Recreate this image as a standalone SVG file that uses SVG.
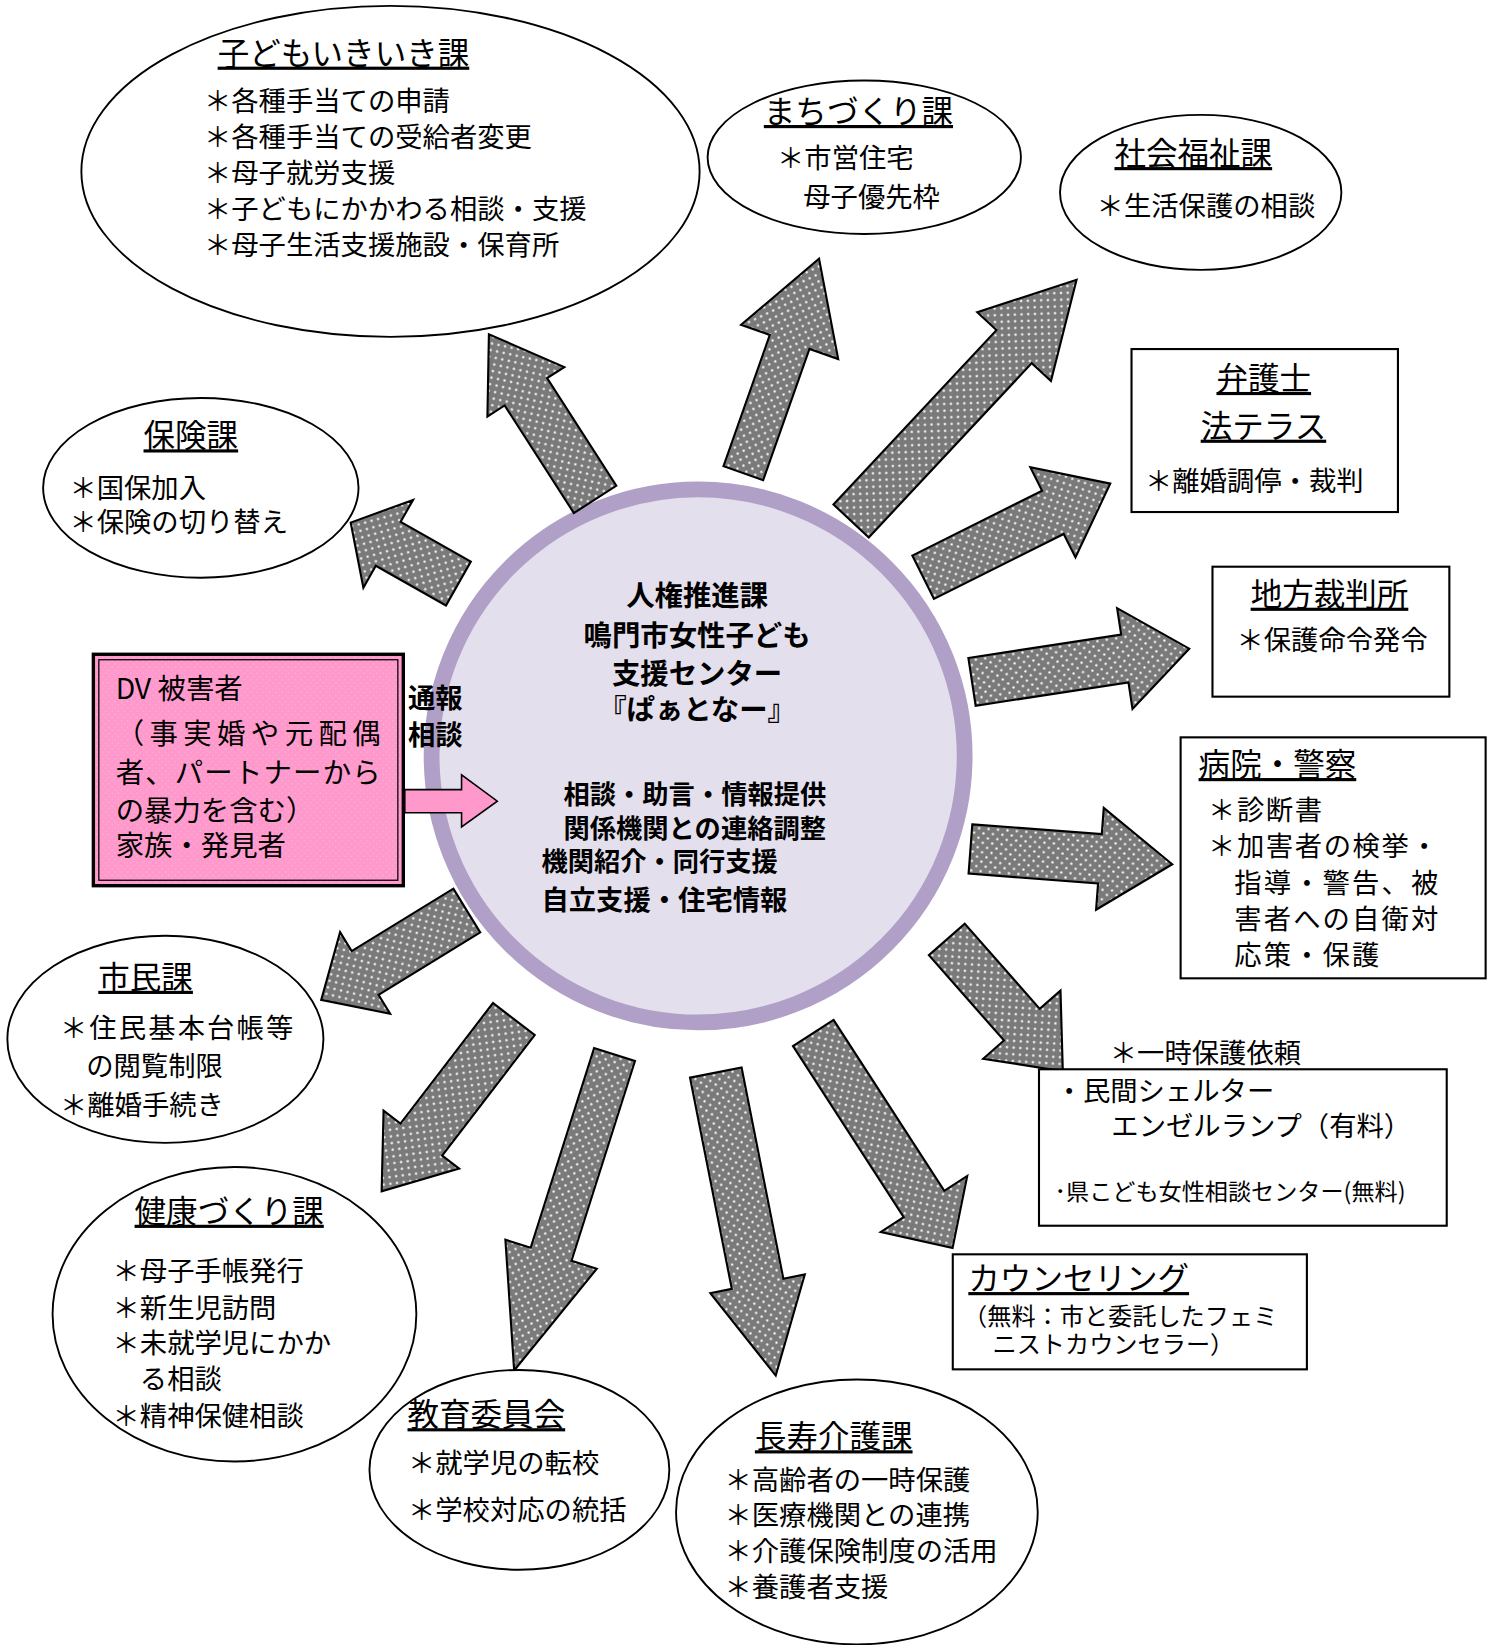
<svg xmlns="http://www.w3.org/2000/svg" width="1493" height="1645" viewBox="0 0 1493 1645">
<defs>
<pattern id="dots" patternUnits="userSpaceOnUse" width="9" height="9">
<rect width="9" height="9" fill="#7a7a7a"/>
<circle cx="2.25" cy="2.25" r="1.1" fill="#ffffff"/>
<circle cx="6.75" cy="6.75" r="1.1" fill="#ffffff"/>
</pattern>
<pattern id="pinkdots" patternUnits="userSpaceOnUse" width="6" height="6">
<rect width="6" height="6" fill="#ff99cc"/>
<circle cx="1.5" cy="1.5" r="0.6" fill="#ffb8dc"/>
<circle cx="4.5" cy="4.5" r="0.6" fill="#ffb8dc"/>
</pattern>
<style>
text{font-family:"Noto Sans CJK JP","Noto Sans CJK SC",sans-serif;fill:#000}
.t{font-size:30px;text-decoration:underline}
.i{font-size:26px}
.s{font-size:22px}
.m{font-size:23px}
.d{font-size:27px}
.c{font-size:27px;font-weight:bold}
.c2{font-size:25px;font-weight:bold}
.e{fill:#fff;stroke:#000;stroke-width:1.8}
.r{fill:#fff;stroke:#000;stroke-width:2}
.ga{fill:url(#dots);stroke:#000;stroke-width:2;stroke-linejoin:miter}
</style>
</defs>
<rect width="1493" height="1645" fill="#fff"/>
<g transform="scale(1.0514)">

<g id="center">
<circle cx="664" cy="719" r="253.5" fill="#e4dfec" stroke="#b09fc7" stroke-width="15"/>
<text class="c" x="663" y="576.5" text-anchor="middle">人権推進課</text>
<text class="c" x="663" y="614.5" text-anchor="middle">鳴門市女性子ども</text>
<text class="c" x="663" y="650.5" text-anchor="middle">支援センター</text>
<text class="c" x="663" y="684.8" text-anchor="middle">『ぱぁとなー』</text>
<text class="c2" x="536" y="764.6">相談・助言・情報提供</text>
<text class="c2" x="536" y="797.3">関係機関との連絡調整</text>
<text class="c2" x="515" y="828.4">機関紹介・同行支援</text>
<text class="c2" x="515" y="865.7" style="font-size:26px">自立支援・住宅情報</text>
</g>

<g id="connectors">
<g transform="translate(566,475) rotate(-122.75)"><polygon class="ga" points="0,-24 121.7,-24 121.7,-43.5 186.7,0 121.7,43.5 121.7,24 0,24"/></g>
<g transform="translate(707,450) rotate(-70.56)"><polygon class="ga" points="0,-20 132.3,-20 132.3,-49 216.3,0 132.3,49 132.3,20 0,20"/></g>
<g transform="translate(809.5,495.5) rotate(-46.93)"><polygon class="ga" points="0,-23 227,-23 227,-48 314,0 227,48 227,23 0,23"/></g>
<g transform="translate(878,549) rotate(-26.57)"><polygon class="ga" points="0,-23 138,-23 138,-48 199,0 138,48 138,23 0,23"/></g>
<g transform="translate(924.5,648.5) rotate(-8.67)"><polygon class="ga" points="0,-23 147,-23 147,-48.5 209,0 147,48.5 147,23 0,23"/></g>
<g transform="translate(923,807.5) rotate(4.32)"><polygon class="ga" points="0,-23.5 123.5,-23.5 123.5,-48.6 192.5,0 123.5,48.6 123.5,23.5 0,23.5"/></g>
<g transform="translate(900.5,893.5) rotate(48.63)"><polygon class="ga" points="0,-22.7 108,-22.7 108,-49 167,0 108,49 108,22.7 0,22.7"/></g>
<g transform="translate(773.5,982.5) rotate(57.06)"><polygon class="ga" points="0,-23 193.7,-23 193.7,-49 243.7,0 193.7,49 193.7,23 0,23"/></g>
<g transform="translate(680.8,1020.1) rotate(78.81)"><polygon class="ga" points="0,-25 204.8,-25 204.8,-45.8 293.8,0 204.8,45.8 204.8,25 0,25"/></g>
<g transform="translate(584.5,1003) rotate(107.63)"><polygon class="ga" points="0,-20.4 199.3,-20.4 199.3,-45.6 315.3,0 199.3,45.6 199.3,20.4 0,20.4"/></g>
<g transform="translate(488.7,969.2) rotate(127.5)"><polygon class="ga" points="0,-25 144.5,-25 144.5,-45.3 206.5,0 144.5,45.3 144.5,25 0,25"/></g>
<g transform="translate(444,866) rotate(148.46)"><polygon class="ga" points="0,-24.4 113.5,-24.4 113.5,-45.5 162.5,0 113.5,45.5 113.5,24.4 0,24.4"/></g>
<g transform="translate(436,555) rotate(-150.5)"><polygon class="ga" points="0,-24 76.7,-24 76.7,-48 117.7,0 76.7,48 76.7,24 0,24"/></g>
<polygon points="385,751 439,751 439,737 473,762 439,786.5 439,773 385,773" fill="#ff99cc" stroke="#000" stroke-width="1.5"/>
<text class="c2" x="388" y="673" style="font-size:26px">通報</text>
<text class="c2" x="388" y="709" style="font-size:26px">相談</text>
</g>

<g id="dv">
<rect x="88.8" y="622.3" width="294.8" height="220.1" fill="url(#pinkdots)" stroke="#000" stroke-width="3.2"/>
<rect x="94" y="627.5" width="284.4" height="209.7" fill="none" stroke="#000" stroke-width="1.2"/>
<text class="d" x="110" y="664.5">DV 被害者</text>
<text class="d" x="110" y="707.5" textLength="252" lengthAdjust="spacing">（事実婚や元配偶</text>
<text class="d" x="110" y="744.5" textLength="252" lengthAdjust="spacing">者、パートナーから</text>
<text class="d" x="110" y="780.5">の暴力を含む）</text>
<text class="d" x="110" y="814.5">家族・発見者</text>
</g>

<g id="kodomo">
<ellipse class="e" cx="371.4" cy="163" rx="294" ry="157.4"/>
<text class="t" x="207" y="61.5">子どもいきいき課</text>
<text class="i" x="194" y="105.6">＊各種手当ての申請</text>
<text class="i" x="194" y="139.4">＊各種手当ての受給者変更</text>
<text class="i" x="194" y="173.6">＊母子就労支援</text>
<text class="i" x="194" y="208.6">＊子どもにかかわる相談・支援</text>
<text class="i" x="194" y="242.8">＊母子生活支援施設・保育所</text>
</g>

<g id="machi">
<ellipse class="e" cx="822" cy="149.6" rx="149" ry="73"/>
<text class="t" x="726.5" y="117">まちづくり課</text>
<text class="i" x="739" y="160.1">＊市営住宅</text>
<text class="i" x="764" y="196.5">母子優先枠</text>
</g>

<g id="shakai">
<ellipse class="e" cx="1142" cy="183" rx="133.8" ry="73.7"/>
<text class="t" x="1060" y="157">社会福祉課</text>
<text class="i" x="1043" y="205.7">＊生活保護の相談</text>
</g>

<g id="bengoshi">
<rect class="r" x="1076.2" y="332" width="253.4" height="155"/>
<text class="t" x="1157" y="370.9">弁護士</text>
<text class="t" x="1142" y="416.3">法テラス</text>
<text class="i" x="1089" y="467">＊離婚調停・裁判</text>
</g>

<g id="chiho">
<rect class="r" x="1153.2" y="539" width="225.3" height="123.6"/>
<text class="t" x="1189.5" y="576.1">地方裁判所</text>
<text class="i" x="1176" y="617.8">＊保護命令発令</text>
</g>

<g id="byoin">
<rect class="r" x="1122.9" y="701.3" width="290.1" height="229.2"/>
<text class="t" x="1140" y="738.1">病院・警察</text>
<text class="i" x="1149" y="779.5" letter-spacing="1.5">＊診断書</text>
<text class="i" x="1149" y="813.8" letter-spacing="1.5">＊加害者の検挙・</text>
<text class="i" x="1174" y="849.3" letter-spacing="2">指導・警告、被</text>
<text class="i" x="1174" y="883.5" letter-spacing="2">害者への自衛対</text>
<text class="i" x="1174" y="917.4" letter-spacing="2">応策・保護</text>
</g>

<g id="shelter">
<text class="i" x="1055.5" y="1010.9">＊一時保護依頼</text>
<rect class="r" x="988.2" y="1017" width="387.8" height="148.8"/>
<text class="i" x="1004" y="1047.4">・民間シェルター</text>
<text class="i" x="1057" y="1080.7">エンゼルランプ（有料）</text>
<text class="s" x="1003" y="1141.1">･県こども女性相談センター(無料)</text>
</g>

<g id="counseling">
<rect class="r" x="906.2" y="1193" width="336.8" height="109.4"/>
<text class="t" x="921" y="1227">カウンセリング</text>
<text class="m" x="916" y="1260.3">（無料：市と委託したフェミ</text>
<text class="m" x="944" y="1287.3">ニストカウンセラー）</text>
</g>

<g id="choju">
<ellipse class="e" cx="815" cy="1438" rx="172" ry="126"/>
<text class="t" x="718" y="1377.5">長寿介護課</text>
<text class="i" x="689" y="1416.7">＊高齢者の一時保護</text>
<text class="i" x="689" y="1450.4">＊医療機関との連携</text>
<text class="i" x="689" y="1484.9">＊介護保険制度の活用</text>
<text class="i" x="689" y="1518.6">＊養護者支援</text>
</g>

<g id="kyoiku">
<ellipse class="e" cx="494" cy="1398" rx="142.6" ry="95"/>
<text class="t" x="387.6" y="1356.5">教育委員会</text>
<text class="i" x="388" y="1400.9">＊就学児の転校</text>
<text class="i" x="388" y="1445.3">＊学校対応の統括</text>
</g>

<g id="kenko">
<ellipse class="e" cx="223" cy="1250" rx="173" ry="140"/>
<text class="t" x="128" y="1163">健康づくり課</text>
<text class="i" x="107" y="1218.1">＊母子手帳発行</text>
<text class="i" x="107" y="1253.1">＊新生児訪問</text>
<text class="i" x="107" y="1287.1">＊未就学児にかか</text>
<text class="i" x="133" y="1321.1">る相談</text>
<text class="i" x="107" y="1356.1">＊精神保健相談</text>
</g>

<g id="shimin">
<ellipse class="e" cx="157.3" cy="988.5" rx="150.3" ry="98.5"/>
<text class="t" x="93.5" y="940.5">市民課</text>
<text class="i" x="57" y="987.4" letter-spacing="2">＊住民基本台帳等</text>
<text class="i" x="82" y="1023.1">の閲覧制限</text>
<text class="i" x="57" y="1060.4">＊離婚手続き</text>
</g>

<g id="hoken">
<ellipse class="e" cx="191" cy="464" rx="150" ry="85.5"/>
<text class="t" x="136.5" y="425.5">保険課</text>
<text class="i" x="66" y="473.2">＊国保加入</text>
<text class="i" x="66" y="506">＊保険の切り替え</text>
</g>

</g>
</svg>
